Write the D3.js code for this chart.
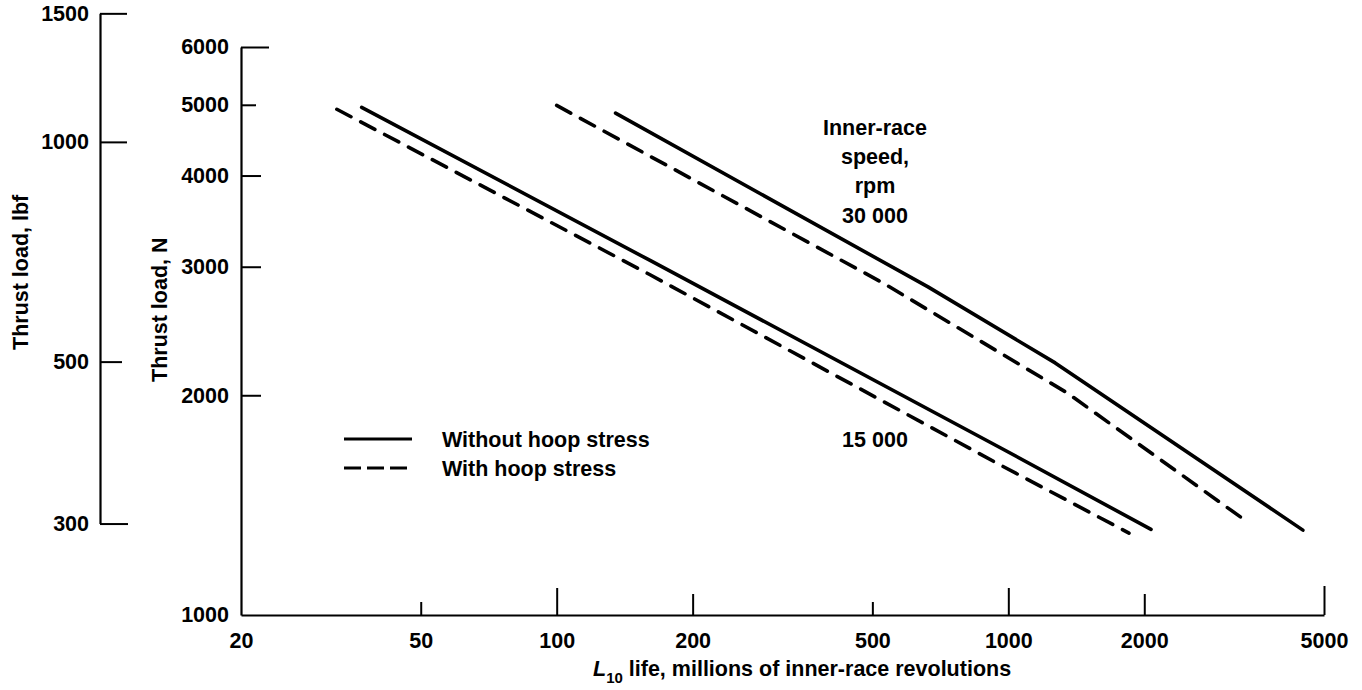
<!DOCTYPE html>
<html>
<head>
<meta charset="utf-8">
<script src="https://cdn.jsdelivr.net/npm/d3@7"></script>
<style>
  html, body { margin: 0; padding: 0; background: #fff; }
  svg text { font-family: "Liberation Sans", Arial, sans-serif; font-weight: bold; fill: #000; }
</style>
</head>
<body>
<div id="chart"></div>
<script>
// L10 life (millions of revs) vs thrust load (N)
const lifeTicks = [20, 50, 100, 200, 500, 1000, 2000, 5000];
const newtonTicks = [1000, 2000, 3000, 4000, 5000, 6000];
const poundTicks = [300, 500, 1000, 1500];
const N_PER_LBF = 4.448;

// 15 000 rpm
const noHoop15k = [[37, 4960], [161, 3060], [960, 1695], [2070, 1310]];
const hoop15k = [[32.6, 4930], [161, 2925], [960, 1605], [1850, 1295]];
// 30 000 rpm
const noHoop30k = [[135, 4870], [664, 2815], [1270, 2215], [4490, 1307]];
const hoop30k = [[100, 4990], [528, 2850], [1350, 2015], [3290, 1358]];

const series = [
  { pts: noHoop15k, dashed: false },
  { pts: hoop15k, dashed: true },
  { pts: noHoop30k, dashed: false },
  { pts: hoop30k, dashed: true }
];

const legendItems = [
  { label: "Without hoop stress", dashed: false },
  { label: "With hoop stress", dashed: true }
];
const speedLabelLines = ["Inner-race", "speed,", "rpm", "30 000"];
const lowSpeedLabel = "15 000";

const width = 1362, height = 690;
const fs = 21.5;
const dash = "16,11";

const svg = d3.select("#chart").append("svg")
  .attr("width", width)
  .attr("height", height);

const x = d3.scaleLog().domain([20, 5000]).range([241, 1324]);
const y = d3.scaleLog().domain([1000, 6000]).range([615, 47]);
// pound scale follows the newton scale
const yLbf = d3.scaleLog().domain([300, 1500])
  .range([y(300 * N_PER_LBF), y(1500 * N_PER_LBF)]);

// tick lengths vary by value like the original drawing
function xTickLen(v) {
  if (v === 20) return 0;
  if (v === 5000) return 29;
  const lead = +String(v)[0];
  return lead === 1 ? 27 : lead === 2 ? 21 : 13;
}
function yTickLen(v) {
  if (v === 1000) return 0;
  if (v === 6000) return 28;
  if (v === 5000) return 15;
  return 20;
}
function lbfTickLen(v) {
  if (v === 500) return 22;
  if (v === 300) return 28;
  return 27;
}

function styleAxis(g) {
  g.select(".domain").attr("stroke", "#000").attr("stroke-width", 2.2);
  g.selectAll(".tick line").attr("stroke", "#000").attr("stroke-width", 2);
  g.selectAll(".tick text")
    .style("font-size", fs + "px")
    .style("font-family", "'Liberation Sans', Arial, sans-serif")
    .style("font-weight", "bold")
    .attr("fill", "#000");
}

// x axis, ticks point up into the plot
const gx = svg.append("g")
  .attr("transform", "translate(0," + y(1000) + ")")
  .call(d3.axisBottom(x).tickValues(lifeTicks).tickFormat(d3.format("d"))
    .tickSizeOuter(0).tickSizeInner(0).tickPadding(18));
gx.selectAll(".tick line").attr("y2", d => -xTickLen(d));
styleAxis(gx);

// newton axis, ticks point right
const gy = svg.append("g")
  .attr("transform", "translate(" + x(20) + ",0)")
  .call(d3.axisLeft(y).tickValues(newtonTicks).tickFormat(d3.format("d"))
    .tickSizeOuter(0).tickSizeInner(0).tickPadding(12));
gy.selectAll(".tick line").attr("x2", d => yTickLen(d));
styleAxis(gy);

// pound axis on the far left
const gl = svg.append("g")
  .attr("transform", "translate(100,0)")
  .call(d3.axisLeft(yLbf).tickValues(poundTicks).tickFormat(d3.format("d"))
    .tickSizeOuter(0).tickSizeInner(0).tickPadding(11));
gl.selectAll(".tick line").attr("x2", d => lbfTickLen(d));
styleAxis(gl);

// axis titles
svg.append("text")
  .attr("transform", "translate(28,350) rotate(-90)")
  .style("font-size", fs + "px")
  .text("Thrust load, lbf");

svg.append("text")
  .attr("transform", "translate(167,382) rotate(-90)")
  .style("font-size", fs + "px")
  .text("Thrust load, N");

const xt = svg.append("text")
  .attr("x", 593)
  .attr("y", 676)
  .style("font-size", fs + "px");
xt.append("tspan").style("font-style", "italic").text("L");
xt.append("tspan").attr("dy", 7).style("font-size", "15px").text("10");
xt.append("tspan").attr("dy", -7).text(" life, millions of inner-race revolutions");

// curves
const line = d3.line()
  .x(d => x(d[0]))
  .y(d => y(d[1]));

svg.selectAll(".curve")
  .data(series)
  .enter()
  .append("path")
  .attr("class", "curve")
  .attr("d", d => line(d.pts))
  .attr("fill", "none")
  .attr("stroke", "#000")
  .attr("stroke-width", 3.6)
  .attr("stroke-linecap", "round")
  .attr("stroke-linejoin", "round")
  .attr("stroke-dasharray", d => d.dashed ? dash : null);

// speed labels
svg.append("g").selectAll("text")
  .data(speedLabelLines)
  .enter()
  .append("text")
  .attr("x", 875)
  .attr("y", (d, i) => [135, 164, 193, 223][i])
  .attr("text-anchor", "middle")
  .style("font-size", fs + "px")
  .text(d => d);

svg.append("text")
  .attr("x", 875)
  .attr("y", 447)
  .attr("text-anchor", "middle")
  .style("font-size", fs + "px")
  .text(lowSpeedLabel);

// legend
const leg = svg.append("g").selectAll("g")
  .data(legendItems)
  .enter()
  .append("g")
  .attr("transform", (d, i) => "translate(344," + (439 + i * 29) + ")");

leg.append("line")
  .attr("x1", 0).attr("x2", 68)
  .attr("stroke", "#000")
  .attr("stroke-width", 2.8)
  .attr("stroke-dasharray", d => d.dashed ? "17,6" : null);

leg.append("text")
  .attr("x", 98)
  .attr("y", 7.5)
  .style("font-size", fs + "px")
  .text(d => d.label);
</script>
</body>
</html>
